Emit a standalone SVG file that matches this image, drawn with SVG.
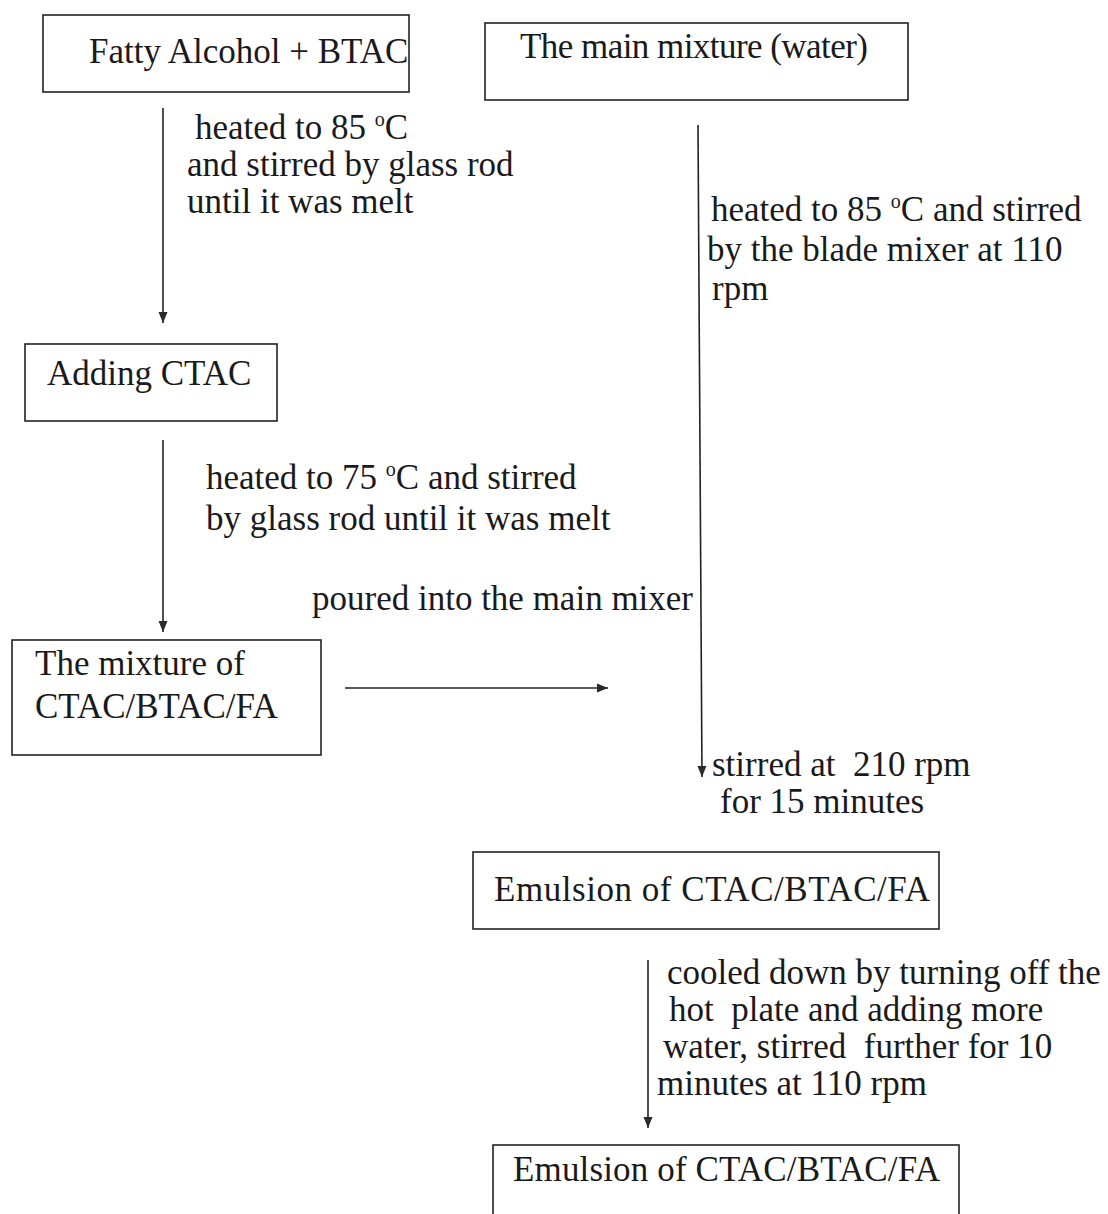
<svg xmlns="http://www.w3.org/2000/svg" width="1108" height="1214" viewBox="0 0 1108 1214">
  <defs>
    <style>
      .box { fill: #ffffff; stroke: #222222; stroke-width: 1.6; }
      .lbl { font-family: "Liberation Serif", "Times New Roman", serif; font-size: 35px; fill: #1a1a1a; }
      .sup { font-size: 20px; }
      .flow { stroke: #222222; stroke-width: 1.6; fill: none; }
    </style>
    <marker id="head" markerUnits="userSpaceOnUse" markerWidth="12" markerHeight="12" viewBox="0 0 12 12" refX="11" refY="6" orient="auto">
      <path d="M0,1.5 L11,6 L0,10.5 Z" fill="#2a2a2a"/>
    </marker>
  </defs>

  <rect width="1108" height="1214" fill="#ffffff"/>

  <!-- process steps -->
  <g id="fatty-alcohol-btac">
    <rect class="box" x="43" y="15" width="366" height="77"/>
    <text class="lbl" x="89" y="63">Fatty Alcohol + BTAC</text>
  </g>

  <g id="main-mixture">
    <rect class="box" x="485" y="23" width="423" height="77"/>
    <text class="lbl" x="520" y="58" textLength="348">The main mixture (water)</text>
  </g>

  <g id="adding-ctac">
    <rect class="box" x="25" y="344" width="252" height="77"/>
    <text class="lbl" x="47" y="385">Adding CTAC</text>
  </g>

  <g id="mixture-ctac-btac-fa">
    <rect class="box" x="12" y="640" width="309" height="115"/>
    <text class="lbl" x="35" y="675">The mixture of</text>
    <text class="lbl" x="35" y="718">CTAC/BTAC/FA</text>
  </g>

  <g id="emulsion-hot">
    <rect class="box" x="473" y="852" width="466" height="77"/>
    <text class="lbl" x="494" y="901" textLength="436">Emulsion of CTAC/BTAC/FA</text>
  </g>

  <g id="emulsion-final">
    <rect class="box" x="493" y="1145" width="466" height="90"/>
    <text class="lbl" x="513" y="1181" textLength="427">Emulsion of CTAC/BTAC/FA</text>
  </g>

  <!-- connectors -->
  <g id="connectors">
    <line class="flow" x1="163" y1="108" x2="163" y2="323" marker-end="url(#head)"/>
    <line class="flow" x1="163" y1="440" x2="163" y2="632" marker-end="url(#head)"/>
    <line class="flow" x1="698" y1="125" x2="702" y2="777" marker-end="url(#head)"/>
    <line class="flow" x1="345" y1="688" x2="608" y2="688" marker-end="url(#head)"/>
    <line class="flow" x1="648" y1="960" x2="648" y2="1128" marker-end="url(#head)"/>
  </g>

  <!-- step conditions -->
  <g id="labels">
    <text class="lbl" x="195" y="139">heated to 85 <tspan class="sup" dy="-13">o</tspan><tspan dy="13">C</tspan></text>
    <text class="lbl" x="187" y="176">and stirred by glass rod</text>
    <text class="lbl" x="187" y="213">until it was melt</text>

    <text class="lbl" x="711" y="221">heated to 85 <tspan class="sup" dy="-13">o</tspan><tspan dy="13">C and stirred</tspan></text>
    <text class="lbl" x="707" y="261">by the blade mixer at 110</text>
    <text class="lbl" x="712" y="300">rpm</text>

    <text class="lbl" x="206" y="489">heated to 75 <tspan class="sup" dy="-13">o</tspan><tspan dy="13">C and stirred</tspan></text>
    <text class="lbl" x="206" y="530">by glass rod until it was melt</text>

    <text class="lbl" x="312" y="610">poured into the main mixer</text>

    <text class="lbl" x="712" y="776" xml:space="preserve">stirred at  210 rpm</text>
    <text class="lbl" x="720" y="813">for 15 minutes</text>

    <text class="lbl" x="667" y="984">cooled down by turning off the</text>
    <text class="lbl" x="669" y="1021" xml:space="preserve">hot  plate and adding more</text>
    <text class="lbl" x="663" y="1058" xml:space="preserve">water, stirred  further for 10</text>
    <text class="lbl" x="657" y="1095">minutes at 110 rpm</text>
  </g>
</svg>
